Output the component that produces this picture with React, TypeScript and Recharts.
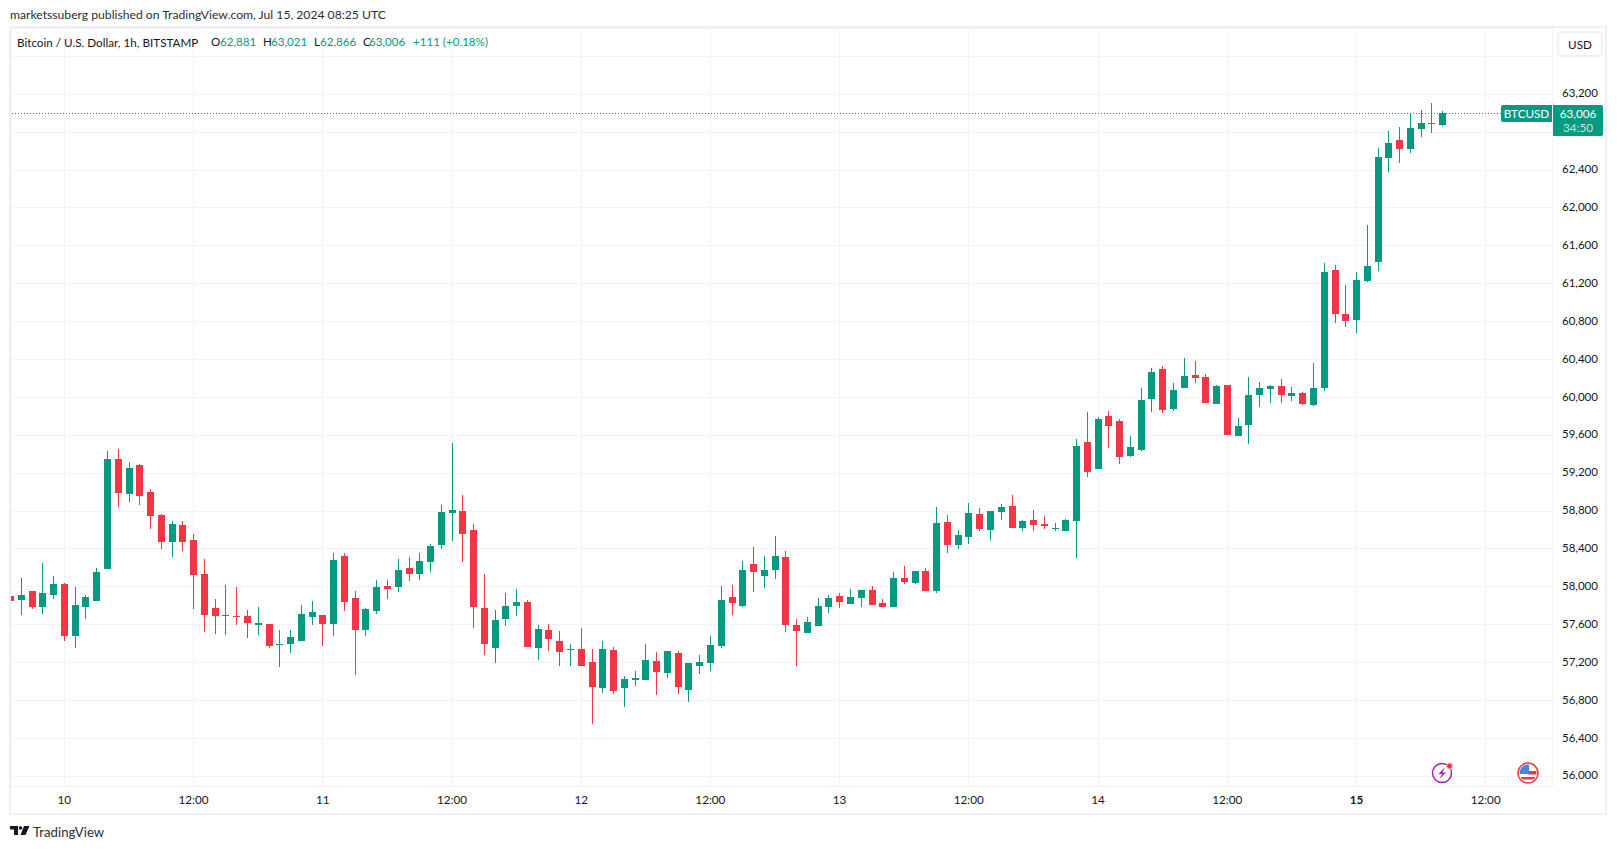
import * as React from "react";
import { Bar, CartesianGrid, ComposedChart, ReferenceLine, XAxis, YAxis } from "recharts";

const UP = "#089981";
const DOWN = "#F23645";
const INK = "#131722";
const GRID = "#F2F3F6";
const BORDER = "#EFF0F6";
const FONT = "Lato, 'Noto Sans', sans-serif";

// hourly candles, first one is 5 hours before the "10" tick
const FIRST_HOUR = -5;

const opens = [
  57900, 57858, 57953, 57784, 57911, 58027, 57478, 57784, 57847, 58185, 59346, 58977, 59283, 58998, 58755, 58470, 58650, 58491, 58132, 57773,
  57699, 57689, 57689, 57594, 57604, 57383, 57393, 57425, 57678, 57699, 57604, 58322, 57879, 57541, 57742, 58006, 57995, 58196, 58132, 58259,
  58438, 58776, 58797, 58597, 57773, 57351, 57657, 57794, 57837, 57351, 57541, 57425, 57330, 57340, 57203, 56929, 57330, 56929, 57013, 57013,
  57214, 57087, 57298, 56908, 57161, 57193, 57372, 57889, 57794, 58238, 58111, 58174, 58312, 57594, 57510, 57584, 57784, 57901, 57816, 57879,
  57964, 57827, 57784, 58091, 58038, 58164, 57953, 58682, 58439, 58523, 58766, 58597, 58787, 58850, 58618, 58702, 58660, 58607, 58586, 58692,
  59526, 59241, 59800, 59747, 59378, 59441, 59980, 60296, 59874, 60096, 60234, 60213, 59927, 60128, 59590, 59706, 60022, 60086, 60117, 60012,
  60044, 59917, 60096, 61342, 60878, 60814, 61226, 61427, 62525, 62715, 62620, 62831, 62894, 62881,
];
const highs = [
  57900, 58090, 57953, 58248, 58111, 58037, 57995, 57911, 58196, 59431, 59452, 59315, 59293, 59030, 58766, 58692, 58692, 58555, 58291, 57868,
  58016, 57995, 57752, 57784, 57604, 57541, 57541, 57805, 57847, 57699, 58354, 58354, 57953, 57773, 58069, 58069, 58291, 58312, 58354, 58449,
  58861, 59515, 58966, 58660, 58132, 57752, 57932, 57974, 57858, 57594, 57604, 57530, 57393, 57562, 57340, 57425, 57362, 57055, 57108, 57393,
  57309, 57319, 57319, 57193, 57277, 57478, 58006, 58016, 58270, 58417, 58322, 58533, 58375, 57658, 57679, 57879, 57911, 57932, 57974, 57964,
  58006, 57869, 58154, 58217, 58164, 58196, 58840, 58756, 58597, 58882, 58829, 58797, 58871, 58966, 58702, 58808, 58745, 58671, 58713, 59557,
  59842, 59790, 59853, 59769, 59589, 60096, 60307, 60328, 60149, 60413, 60381, 60244, 60128, 60128, 59780, 60213, 60160, 60128, 60191, 60107,
  60054, 60360, 61416, 61395, 61184, 61321, 61817, 62630, 62810, 62852, 62989, 63031, 63105, 63021,
];
const lows = [
  57699, 57699, 57763, 57710, 57868, 57425, 57351, 57657, 57847, 58185, 58840, 58892, 58861, 58607, 58396, 58312, 58375, 57763, 57520, 57499,
  57488, 57594, 57457, 57488, 57351, 57150, 57298, 57425, 57594, 57372, 57478, 57742, 57066, 57478, 57710, 57868, 57942, 58058, 58069, 58153,
  58396, 58481, 58259, 57562, 57277, 57193, 57583, 57689, 57362, 57224, 57319, 57161, 57161, 57161, 56549, 56876, 56865, 56728, 56950, 57013,
  56855, 57034, 56865, 56781, 57077, 57108, 57351, 57699, 57784, 57942, 57984, 58079, 57520, 57162, 57510, 57584, 57721, 57774, 57816, 57784,
  57806, 57784, 57784, 58027, 58027, 57953, 57932, 58354, 58397, 58449, 58586, 58491, 58702, 58618, 58586, 58586, 58607, 58586, 58586, 58301,
  59156, 59241, 59462, 59293, 59367, 59431, 59842, 59832, 59853, 60096, 60149, 59938, 59927, 59600, 59590, 59505, 59896, 59938, 59938, 59959,
  59917, 59906, 60065, 60783, 60740, 60677, 61215, 61332, 62377, 62472, 62577, 62746, 62788, 62866,
];
const closes = [
  57847, 57911, 57784, 57932, 58027, 57478, 57805, 57889, 58153, 59346, 58987, 59251, 58956, 58745, 58470, 58660, 58470, 58122, 57699, 57689,
  57689, 57678, 57615, 57615, 57372, 57393, 57467, 57710, 57731, 57604, 58280, 57837, 57541, 57763, 57995, 57974, 58174, 58132, 58270, 58428,
  58787, 58808, 58555, 57784, 57393, 57647, 57794, 57837, 57362, 57552, 57446, 57309, 57340, 57161, 56939, 57340, 56897, 57024, 57034, 57224,
  57098, 57319, 56939, 57193, 57203, 57383, 57858, 57826, 58174, 58153, 58174, 58322, 57594, 57531, 57626, 57795, 57879, 57837, 57890, 57964,
  57806, 57784, 58091, 58048, 58164, 57953, 58671, 58439, 58545, 58777, 58607, 58797, 58840, 58618, 58692, 58650, 58639, 58618, 58702, 59484,
  59209, 59769, 59695, 59367, 59473, 59969, 60265, 59864, 60075, 60223, 60202, 59938, 60117, 59600, 59695, 60022, 60096, 60117, 60022, 60044,
  59927, 60096, 61321, 60878, 60804, 61237, 61384, 62535, 62683, 62620, 62841, 62894, 62883, 63006,
];

const priceTicks = [56000, 56400, 56800, 57200, 57600, 58000, 58400, 58800, 59200, 59600, 60000, 60400, 60800, 61200, 61600, 62000, 62400, 62800, 63200, 63600];
// these two labels sit behind the price box and the USD button in the original
const coveredPriceTicks = [62800, 63600];
const hourTicks = [0, 12, 24, 36, 48, 60, 72, 84, 96, 108, 120, 132];
const hourLabels = ["10", "12:00", "11", "12:00", "12", "12:00", "13", "12:00", "14", "12:00", "15", "12:00"];

const lastPrice = 63006;

const legendItems = [
  { x: 211, text: "O", color: INK },
  { x: 220, text: "62,881", color: UP },
  { x: 263, text: "H", color: INK },
  { x: 271, text: "63,021", color: UP },
  { x: 314, text: "L", color: INK },
  { x: 320, text: "62,866", color: UP },
  { x: 363, text: "C", color: INK },
  { x: 369, text: "63,006", color: UP },
  { x: 413, text: "+111 (+0.18%)", color: UP },
];

const candles = opens.map((open, i) => ({
  hour: i + FIRST_HOUR,
  wick: [lows[i], highs[i]],
  body: [Math.min(open, closes[i]), Math.max(open, closes[i])],
  color: closes[i] >= open ? UP : DOWN,
}));

// snap to whole pixels, the way the original canvas does
const CandlePart = (props: any) => {
  const { x, y, width, height, payload } = props;
  return (
    <rect
      x={Math.round(x)}
      y={Math.round(y)}
      width={Math.round(width)}
      height={Math.max(1, Math.round(height))}
      fill={payload.color}
      shapeRendering="crispEdges"
    />
  );
};

const LastPriceLine = (props: any) => {
  const y = Math.round(props.y1) + 0.5;
  return <line x1={props.x1} x2={props.x2} y1={y} y2={y} stroke={UP} strokeDasharray="1 2" />;
};

const HourTick = (props: any) => {
  const { x, y, payload } = props;
  const label = hourLabels[hourTicks.indexOf(payload.value)];
  return (
    <text x={x} y={y} dy={10} textAnchor="middle" fontSize={11.7} fill={INK} fontFamily={FONT} fontWeight={label === "15" ? 700 : 400}>
      {label}
    </text>
  );
};

const Label = ({ x, y, size = 11.6, color = INK, children, style }: any) => (
  <div style={{ position: "absolute", left: x, top: y, fontSize: size, lineHeight: "16px", color, whiteSpace: "nowrap", ...style }}>
    {children}
  </div>
);

const Icons = () => (
  <svg width={1617} height={849} style={{ position: "absolute", left: 0, top: 0, pointerEvents: "none" }}>
    <circle cx={1442} cy={773} r={9.5} fill="#fff" stroke="#9C27B0" strokeWidth={1.5} />
    <path d="M1445 767 L1438.5 774 L1442 774 L1439.5 779 L1446 772.5 L1442.5 772.5 Z" fill="#9C27B0" />
    <circle cx={1449.5} cy={766} r={3} fill="#F23645" stroke="#fff" strokeWidth={0.6} />
    <clipPath id="flagClip">
      <circle cx={1528} cy={773} r={8.5} />
    </clipPath>
    <circle cx={1528} cy={773} r={10} fill="#fff" stroke="#F23645" strokeWidth={1.5} />
    <g clipPath="url(#flagClip)">
      <rect x={1519} y={764} width={18} height={18} fill="#fff" />
      <rect x={1528} y={771} width={9} height={3.5} fill="#F23645" />
      <rect x={1519} y={777} width={18} height={2.5} fill="#F23645" />
      <rect x={1519} y={764} width={10} height={10} fill="#3D8BEA" />
    </g>
    <path d="M10 826 H18 V835 H14 V829.5 H10 Z" fill={INK} />
    <circle cx={20.5} cy={828} r={1.8} fill={INK} />
    <path d="M24 826 H29.5 L25.5 835 H20.5 Z" fill={INK} />
  </svg>
);

export default function App() {
  return (
    <div style={{ position: "absolute", left: 0, top: 0, width: 1617, height: 849, background: "#fff", fontFamily: FONT, overflow: "hidden" }}>
      <ComposedChart
        width={1617}
        height={849}
        data={candles}
        margin={{ top: 28, right: 10, bottom: 36, left: 11 }}
      >
        <CartesianGrid stroke={GRID} xAxisId="body" shapeRendering="crispEdges" />
        <XAxis
          xAxisId="body"
          type="number"
          dataKey="hour"
          domain={[-4.953, 138.16]}
          allowDataOverflow
          ticks={hourTicks}
          interval={0}
          axisLine={false}
          tickLine={false}
          height={27}
          tickMargin={2}
          tick={HourTick}
        />
        <XAxis xAxisId="wick" type="number" dataKey="hour" domain={[-4.953, 138.16]} allowDataOverflow ticks={hourTicks} hide />
        <YAxis
          orientation="right"
          type="number"
          domain={[55898, 63900]}
          allowDataOverflow
          ticks={priceTicks}
          interval={0}
          tickFormatter={(v: number) => (coveredPriceTicks.includes(v) ? "" : v.toLocaleString("en-US"))}
          axisLine={false}
          tickLine={false}
          width={55}
          tickMargin={4}
          tick={{ fontSize: 11.5, fill: INK, fontFamily: FONT, dy: -1 }}
        />
        <ReferenceLine xAxisId="body" y={lastPrice} shape={LastPriceLine} />
        <Bar xAxisId="wick" dataKey="wick" barSize={1} isAnimationActive={false} shape={CandlePart} />
        <Bar xAxisId="body" dataKey="body" barSize={7} isAnimationActive={false} shape={CandlePart} />
      </ComposedChart>

      <div style={{ position: "absolute", left: 9, top: 26, width: 1598, height: 789, border: `2px solid ${BORDER}`, boxSizing: "border-box", pointerEvents: "none" }} />

      <Label x={10} y={7} size={12.17} color="#2A2E39">marketssuberg published on TradingView.com, Jul 15, 2024 08:25 UTC</Label>
      <Label x={17} y={34} size={11.7}>Bitcoin / U.S. Dollar, 1h, BITSTAMP</Label>
      {legendItems.map((item) => (
        <Label key={item.x} x={item.x} y={34} color={item.color}>{item.text}</Label>
      ))}

      <div style={{ position: "absolute", left: 1557, top: 31, width: 46, height: 26, boxSizing: "border-box", border: "2px solid #EFF1F6", borderRadius: 5, background: "#fff", textAlign: "center", fontSize: 11.7, lineHeight: "22px", color: INK }}>USD</div>

      <div style={{ position: "absolute", left: 1501, top: 105, width: 51, height: 17, background: UP, borderRadius: "2px 0 0 2px", color: "#fff", fontSize: 11.7, lineHeight: "17px", textAlign: "center" }}>BTCUSD</div>
      <div style={{ position: "absolute", left: 1553, top: 105, width: 50, height: 31, background: UP, borderRadius: "0 2px 2px 0", color: "#fff", fontSize: 11.7, lineHeight: "14px", textAlign: "center" }}>
        <div style={{ marginTop: 1 }}>63,006</div>
        <div style={{ opacity: 0.75 }}>34:50</div>
      </div>

      <Icons />
      <Label x={33} y={824} size={13.2} color="#2A2E39">TradingView</Label>
    </div>
  );
}
